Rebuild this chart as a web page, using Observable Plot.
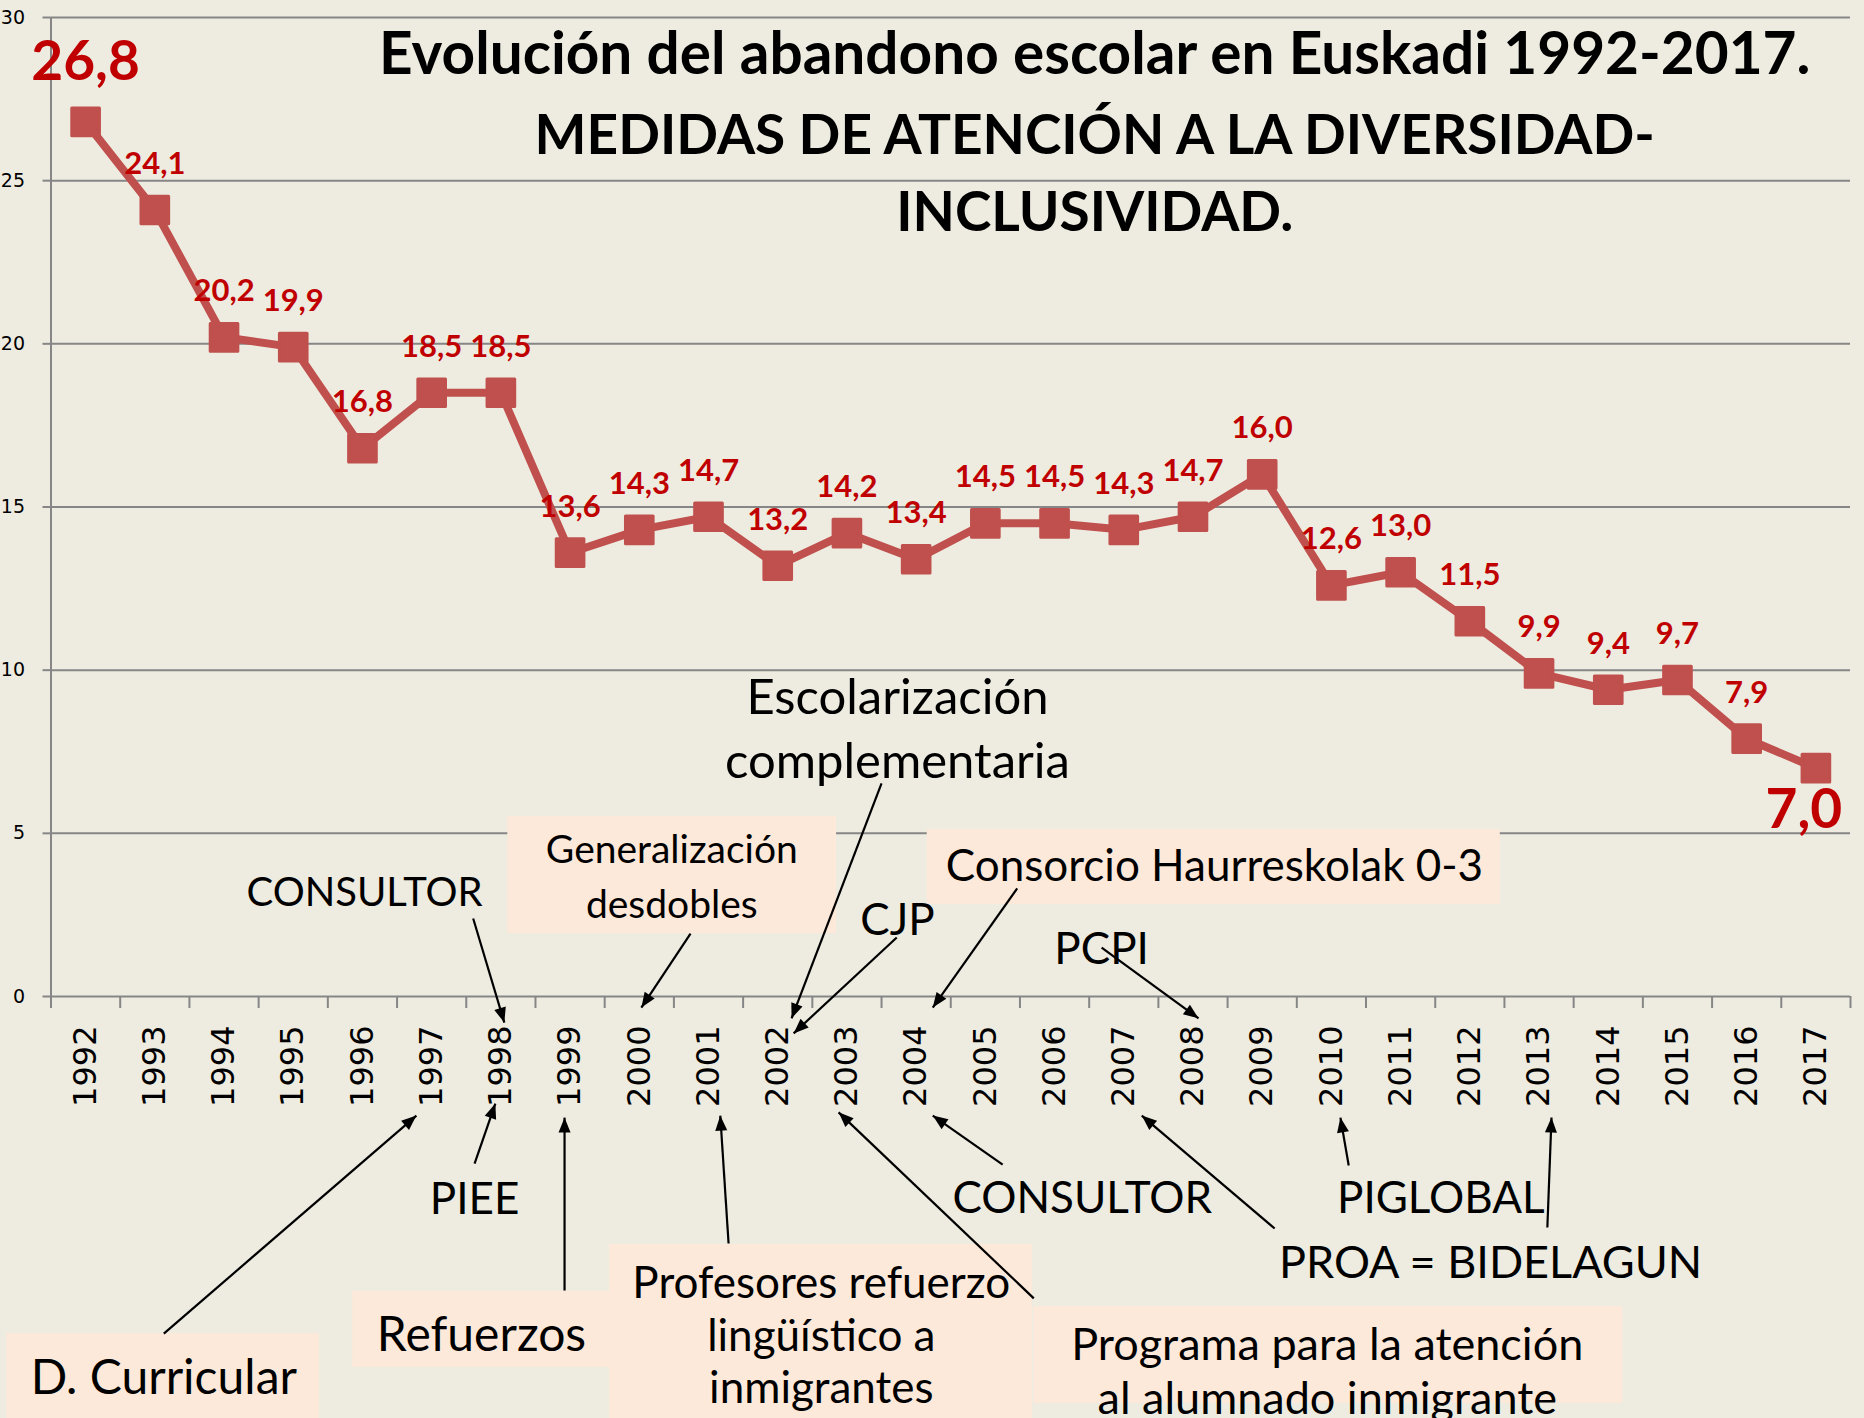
<!DOCTYPE html>
<html><head><meta charset="utf-8">
<script src="https://cdn.jsdelivr.net/npm/d3@7"></script>
<script src="https://cdn.jsdelivr.net/npm/@observablehq/plot@0.6"></script>
<style>
html,body{margin:0;padding:0;background:#EEECE1;}
#chart{position:relative;width:1864px;height:1418px;overflow:hidden;}
</style></head><body><div id="chart"></div>
<script>
// ---- data ----
const years = [1992,1993,1994,1995,1996,1997,1998,1999,2000,2001,2002,2003,2004,2005,2006,2007,2008,2009,2010,2011,2012,2013,2014,2015,2016,2017];
const rates = [26.8,24.1,20.2,19.9,16.8,18.5,18.5,13.6,14.3,14.7,13.2,14.2,13.4,14.5,14.5,14.3,14.7,16.0,12.6,13.0,11.5,9.9,9.4,9.7,7.9,7.0];
const yTicks = [0,5,10,15,20,25,30];
const titleLines = ["Evolución del abandono escolar en Euskadi 1992-2017.","MEDIDAS DE ATENCIÓN A LA DIVERSIDAD-","INCLUSIVIDAD."];
const noteTexts = ["CONSULTOR","Generalización","desdobles","Escolarización","complementaria","CJP",
  "Consorcio Haurreskolak 0-3","PCPI","D. Curricular","PIEE","Refuerzos","Profesores refuerzo",
  "lingüístico a","inmigrantes","Programa para la atención","al alumnado inmigrante","CONSULTOR",
  "PIGLOBAL","PROA = BIDELAGUN"];

// ---- annotation layout (chart units: year, rate) ----
const noteLayout = [
  {x:1996.03, y:2.76, size:40},
  {x:2000.47, y:4.08, size:39},
  {x:2000.47, y:2.42, size:39},
  {x:2003.73, y:8.67, size:49},
  {x:2003.73, y:6.71, size:49},
  {x:2003.73, y:1.87, size:44},
  {x:2008.31, y:3.55, size:44},
  {x:2006.68, y:1.01, size:44},
  {x:1993.13, y:-12.17, size:48},
  {x:1997.62, y:-6.65, size:44},
  {x:1997.72, y:-10.85, size:48},
  {x:2002.63, y:-9.25, size:44},
  {x:2002.63, y:-10.85, size:44},
  {x:2002.63, y:-12.47, size:44},
  {x:2009.94, y:-11.15, size:45},
  {x:2009.94, y:-12.80, size:45},
  {x:2006.40, y:-6.62, size:44},
  {x:2011.58, y:-6.62, size:44},
  {x:2012.30, y:-8.64, size:45}
];
const noteBoxes = [
  {x1:1998.10, x2:2002.85, y1:5.52, y2:1.93},
  {x1:2004.16, x2:2012.44, y1:5.12, y2:2.82},
  {x1:1990.86, x2:1995.38, y1:-10.33, y2:-13.5},
  {x1:1995.86, x2:1999.57, y1:-9.04, y2:-11.37},
  {x1:1999.57, x2:2005.68, y1:-7.60, y2:-13.5},
  {x1:2005.70, x2:2014.21, y1:-9.50, y2:-12.47}
];
const noteArrows = [
  {x1:1997.60, y1:2.39, x2:1998.05, y2:-0.80},
  {x1:2000.74, y1:1.93, x2:2000.03, y2:-0.34},
  {x1:2003.50, y1:6.53, x2:2002.20, y2:-0.67},
  {x1:2003.72, y1:1.81, x2:2002.23, y2:-1.13},
  {x1:2005.46, y1:3.31, x2:2004.24, y2:-0.34},
  {x1:2006.68, y1:1.50, x2:2008.08, y2:-0.67},
  {x1:1993.13, y1:-10.33, x2:1996.78, y2:-3.65},
  {x1:1997.62, y1:-5.12, x2:1997.92, y2:-3.28},
  {x1:1998.92, y1:-9.01, x2:1998.92, y2:-3.71},
  {x1:2001.29, y1:-7.57, x2:2001.17, y2:-3.65},
  {x1:2005.70, y1:-9.25, x2:2002.88, y2:-3.55},
  {x1:2005.25, y1:-5.15, x2:2004.24, y2:-3.65},
  {x1:2009.18, y1:-7.11, x2:2007.26, y2:-3.65},
  {x1:2010.25, y1:-5.18, x2:2010.13, y2:-3.71},
  {x1:2013.12, y1:-7.08, x2:2013.18, y2:-3.71}
];

// ---- build ----
const series = years.map((yr, i) => ({year: yr, rate: rates[i]}));
const fmt = v => d3.format(".1f")(v).replace(".", ",");
const ends = [series[0], series[series.length - 1]];
const middle = series.slice(1, -1);
const bounds = d3.range(years.length + 1).map(i => years[0] - 0.5 + i);
const notes = noteTexts.map((t, i) => ({text: t, ...noteLayout[i]}));
const titleData = titleLines.map((t, i) => ({t, x: 2006.58, y: [28.28, 25.83, 23.47][i], size: [58.5, 55, 55][i]}));

const RED = "#C0504D", LABEL = "#C00000", GRID = "#868686";
const SANS = "Lato, 'Open Sans', sans-serif";

const chart = Plot.plot({
  width: 1864, height: 1418,
  marginLeft: 50.5, marginRight: 14, marginTop: 17, marginBottom: 422,
  style: {background: "#EEECE1", overflow: "visible"},
  x: {domain: [1991.5, 2017.5], axis: null},
  y: {domain: [0, 30], axis: null},
  marks: [
    Plot.gridY({ticks: yTicks, stroke: GRID, strokeOpacity: 1, strokeWidth: 2}),
    Plot.axisY({ticks: yTicks, tickSize: 8, tickPadding: 18, stroke: GRID, strokeWidth: 2, fill: "#000",
      fontSize: 19, fontFamily: "'DejaVu Sans'", tickFormat: d => String(d)}),
    Plot.ruleX([1991.5], {stroke: GRID, strokeWidth: 2}),
    Plot.axisX({ticks: bounds, tickSize: 12, tickFormat: () => "", stroke: GRID, strokeWidth: 2}),
    Plot.text(years, {x: d => d, y: 0, text: d => String(d), rotate: -90, textAnchor: "end", lineAnchor: "middle",
      dy: 29, fontSize: 32, fontFamily: "'DejaVu Sans'", fill: "#000"}),
    Plot.rect(noteBoxes, {x1: "x1", x2: "x2", y1: "y1", y2: "y2", fill: "#FDE9D9"}),
    Plot.line(series, {x: "year", y: "rate", stroke: RED, strokeWidth: 8}),
    Plot.dot(series, {x: "year", y: "rate", symbol: "square", r: 15.6, fill: RED, stroke: RED, strokeWidth: 3, strokeLinejoin: "round"}),
    Plot.text(middle, {x: "year", y: "rate", text: d => fmt(d.rate), dy: -46, lineAnchor: "middle",
      fill: LABEL, fontWeight: "bold", fontSize: 31, fontFamily: SANS}),
    Plot.text(ends, {x: "year", y: "rate", text: d => fmt(d.rate),
      lineAnchor: "middle", fill: LABEL, fontWeight: "bold", fontSize: 55, fontFamily: SANS,
      render: (index, scales, values, dims, ctx, next) => {
        const g = next(index, scales, values, dims, ctx);
        const ts = g.querySelectorAll("text");
        if (ts[0]) ts[0].setAttribute("transform", ts[0].getAttribute("transform") + " translate(0,-60)");
        if (ts[1]) ts[1].setAttribute("transform", ts[1].getAttribute("transform") + " translate(-12,42)");
        return g;
      }}),
    Plot.link(noteArrows, {x1: "x1", y1: "y1", x2: "x2", y2: "y2", stroke: "#000", strokeWidth: 2.2}),
    Plot.text(notes, {x: "x", y: "y", text: "text", lineAnchor: "bottom", fontSize: d => d.size,
      fontFamily: SANS, fill: "#000"}),
    Plot.text(titleData, {x: "x", y: "y", text: "t", lineAnchor: "bottom", fontWeight: "bold",
      fontSize: d => d.size, fontFamily: SANS, fill: "#000"})
  ]
});

const svg = d3.select(chart);
const defs = svg.append("defs");
defs.append("marker").attr("id", "ah").attr("viewBox", "-16 -7 16 14")
  .attr("refX", 0).attr("refY", 0).attr("markerWidth", 16).attr("markerHeight", 14)
  .attr("markerUnits", "userSpaceOnUse").attr("orient", "auto")
  .append("path").attr("d", "M0,0L-15,-6L-15,6Z").attr("fill", "#000");
svg.selectAll("g[aria-label='link'] path").attr("marker-end", "url(#ah)");
document.getElementById("chart").appendChild(chart);
</script></body></html>
